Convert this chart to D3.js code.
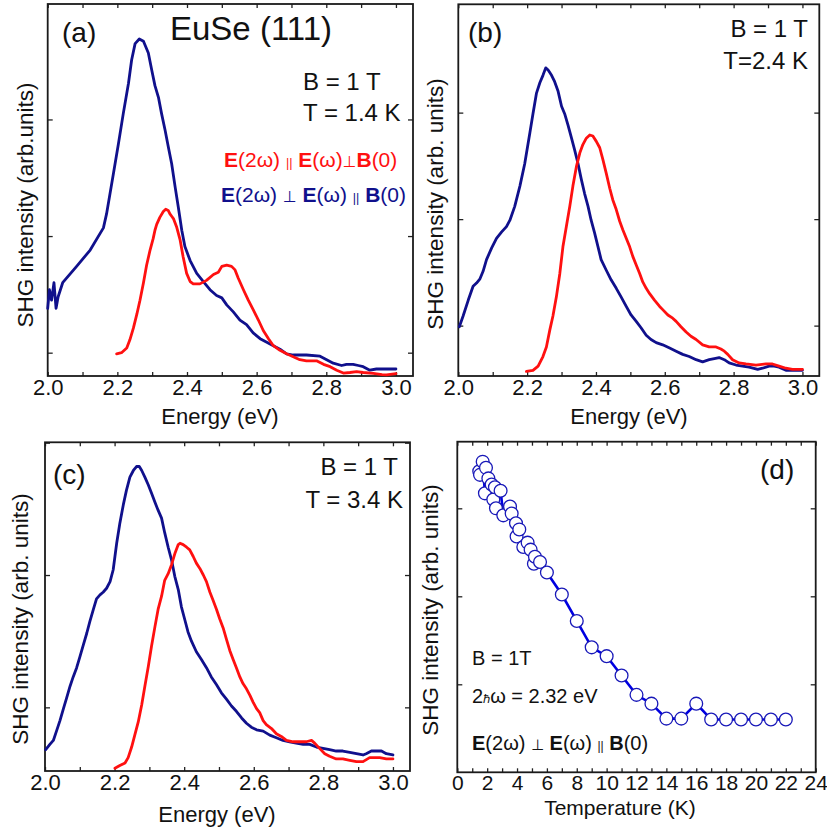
<!DOCTYPE html>
<html>
<head>
<meta charset="utf-8">
<script src="https://cdn.jsdelivr.net/npm/d3@7"></script>
<style>
  body { margin: 0; background: #fff; }
  svg { display: block; }
  text { font-family: "Liberation Sans", Arial, Helvetica, sans-serif; fill: #111; }
</style>
</head>
<body>
<svg id="fig" width="827" height="830"></svg>
<script>
// ---------- SHG spectra, photon energy (eV) vs intensity (arb. units) ----------
// (a) T = 1.4 K
const blueA = [[2.0,1.38],[2.005,1.54],[2.011,1.45],[2.018,1.60],[2.024,1.38],[2.030,1.48],[2.043,1.60],[2.083,1.74],[2.122,1.88],[2.160,2.07],[2.169,2.19],[2.189,2.54],[2.203,2.79],[2.217,3.05],[2.232,3.31],[2.241,3.51],[2.251,3.65],[2.263,3.69],[2.275,3.67],[2.289,3.57],[2.299,3.42],[2.308,3.29],[2.318,3.19],[2.327,3.05],[2.337,2.91],[2.346,2.77],[2.356,2.62],[2.366,2.42],[2.375,2.25],[2.385,2.05],[2.394,1.91],[2.409,1.79],[2.428,1.68],[2.447,1.61],[2.466,1.54],[2.485,1.49],[2.500,1.47],[2.514,1.41],[2.533,1.35],[2.552,1.28],[2.571,1.24],[2.590,1.17],[2.610,1.12],[2.629,1.09],[2.648,1.06],[2.667,1.03],[2.686,0.99],[2.705,0.98],[2.724,0.98],[2.743,0.98],[2.782,0.97],[2.801,0.94],[2.820,0.91],[2.844,0.89],[2.858,0.90],[2.877,0.90],[2.892,0.89],[2.906,0.88],[2.925,0.85],[2.944,0.86],[2.973,0.86],[3.0,0.86]];
const redA = [[2.198,0.99],[2.212,1.00],[2.227,1.04],[2.236,1.11],[2.246,1.21],[2.256,1.33],[2.265,1.45],[2.275,1.60],[2.284,1.75],[2.294,1.88],[2.303,1.98],[2.308,2.05],[2.313,2.10],[2.322,2.16],[2.332,2.21],[2.339,2.23],[2.346,2.22],[2.351,2.19],[2.356,2.17],[2.361,2.15],[2.370,2.08],[2.380,1.97],[2.389,1.82],[2.399,1.68],[2.409,1.61],[2.418,1.59],[2.437,1.59],[2.456,1.62],[2.476,1.67],[2.490,1.69],[2.500,1.74],[2.514,1.75],[2.528,1.74],[2.538,1.71],[2.547,1.64],[2.562,1.54],[2.576,1.45],[2.590,1.37],[2.605,1.28],[2.619,1.19],[2.634,1.12],[2.648,1.06],[2.667,1.02],[2.686,0.99],[2.705,0.965],[2.724,0.94],[2.743,0.93],[2.772,0.93],[2.792,0.90],[2.811,0.88],[2.830,0.85],[2.849,0.825],[2.868,0.83],[2.887,0.837],[2.906,0.83],[2.935,0.823],[2.960,0.812],[2.973,0.81],[3.0,0.82]];

// (b) T = 2.4 K
const blueB = [[2.003,0.99],[2.014,1.09],[2.029,1.24],[2.043,1.37],[2.053,1.40],[2.063,1.44],[2.072,1.51],[2.082,1.62],[2.097,1.73],[2.111,1.82],[2.126,1.88],[2.140,1.93],[2.150,1.99],[2.164,2.12],[2.179,2.31],[2.193,2.52],[2.208,2.81],[2.217,2.99],[2.227,3.18],[2.237,3.28],[2.246,3.35],[2.254,3.42],[2.261,3.40],[2.271,3.35],[2.280,3.29],[2.290,3.20],[2.300,3.06],[2.309,2.99],[2.319,2.88],[2.329,2.76],[2.338,2.65],[2.348,2.52],[2.357,2.38],[2.367,2.24],[2.377,2.12],[2.386,1.99],[2.396,1.87],[2.406,1.74],[2.415,1.62],[2.430,1.52],[2.444,1.43],[2.459,1.35],[2.473,1.27],[2.488,1.18],[2.502,1.10],[2.517,1.04],[2.531,0.98],[2.546,0.91],[2.560,0.87],[2.575,0.84],[2.594,0.82],[2.614,0.79],[2.633,0.76],[2.652,0.73],[2.671,0.71],[2.691,0.68],[2.710,0.66],[2.729,0.68],[2.744,0.69],[2.758,0.70],[2.773,0.68],[2.787,0.65],[2.807,0.63],[2.826,0.62],[2.845,0.61],[2.870,0.59],[2.884,0.60],[2.903,0.62],[2.918,0.62],[2.932,0.61],[2.952,0.58],[2.971,0.58],[3.0,0.58]];
const redB = [[2.198,0.57],[2.217,0.58],[2.232,0.62],[2.246,0.71],[2.256,0.80],[2.266,0.96],[2.275,1.09],[2.285,1.27],[2.295,1.49],[2.304,1.74],[2.314,1.93],[2.324,2.12],[2.333,2.31],[2.343,2.49],[2.353,2.62],[2.362,2.70],[2.372,2.76],[2.382,2.79],[2.391,2.78],[2.401,2.73],[2.411,2.67],[2.420,2.56],[2.430,2.43],[2.440,2.29],[2.449,2.18],[2.459,2.09],[2.469,1.98],[2.478,1.90],[2.488,1.82],[2.498,1.74],[2.507,1.65],[2.517,1.57],[2.527,1.49],[2.536,1.41],[2.546,1.35],[2.556,1.30],[2.570,1.24],[2.585,1.18],[2.594,1.15],[2.609,1.10],[2.623,1.07],[2.633,1.04],[2.647,0.99],[2.662,0.94],[2.676,0.90],[2.691,0.87],[2.710,0.82],[2.729,0.80],[2.749,0.80],[2.763,0.78],[2.773,0.76],[2.783,0.73],[2.797,0.68],[2.816,0.65],[2.836,0.64],[2.865,0.63],[2.894,0.64],[2.913,0.64],[2.932,0.62],[2.952,0.60],[2.971,0.59],[3.0,0.59]];

// (c) T = 3.4 K
const blueC = [[2.002,0.68],[2.014,0.72],[2.024,0.75],[2.033,0.82],[2.043,0.90],[2.053,0.99],[2.062,1.07],[2.072,1.16],[2.081,1.23],[2.091,1.30],[2.100,1.38],[2.110,1.47],[2.120,1.56],[2.129,1.65],[2.139,1.74],[2.148,1.82],[2.158,1.85],[2.167,1.87],[2.177,1.90],[2.187,1.95],[2.196,2.04],[2.201,2.14],[2.206,2.24],[2.215,2.39],[2.225,2.53],[2.234,2.64],[2.244,2.74],[2.254,2.79],[2.263,2.82],[2.271,2.82],[2.278,2.79],[2.287,2.74],[2.297,2.68],[2.306,2.62],[2.316,2.55],[2.325,2.49],[2.335,2.43],[2.344,2.32],[2.354,2.21],[2.364,2.11],[2.373,1.99],[2.383,1.89],[2.392,1.76],[2.402,1.66],[2.411,1.57],[2.421,1.50],[2.435,1.42],[2.450,1.36],[2.464,1.30],[2.478,1.23],[2.493,1.17],[2.507,1.11],[2.522,1.06],[2.536,1.01],[2.550,0.97],[2.565,0.92],[2.579,0.88],[2.593,0.85],[2.608,0.83],[2.627,0.82],[2.646,0.79],[2.665,0.77],[2.684,0.75],[2.703,0.74],[2.722,0.73],[2.742,0.72],[2.761,0.72],[2.780,0.70],[2.799,0.69],[2.818,0.68],[2.837,0.67],[2.856,0.67],[2.876,0.66],[2.895,0.65],[2.914,0.64],[2.923,0.65],[2.938,0.67],[2.952,0.67],[2.967,0.67],[2.981,0.65],[3.0,0.64]];
const redC = [[2.201,0.54],[2.215,0.56],[2.230,0.58],[2.239,0.62],[2.249,0.70],[2.258,0.79],[2.268,0.89],[2.278,1.02],[2.287,1.16],[2.297,1.31],[2.306,1.46],[2.316,1.61],[2.325,1.74],[2.335,1.84],[2.344,1.96],[2.354,2.01],[2.364,2.08],[2.373,2.16],[2.383,2.23],[2.388,2.24],[2.397,2.23],[2.407,2.21],[2.416,2.19],[2.426,2.14],[2.435,2.09],[2.445,2.05],[2.455,2.00],[2.464,1.95],[2.474,1.87],[2.483,1.81],[2.493,1.74],[2.502,1.67],[2.512,1.60],[2.522,1.51],[2.531,1.43],[2.541,1.36],[2.550,1.30],[2.560,1.23],[2.569,1.18],[2.579,1.14],[2.589,1.09],[2.598,1.04],[2.608,0.99],[2.617,0.96],[2.627,0.90],[2.636,0.87],[2.651,0.84],[2.665,0.80],[2.679,0.78],[2.694,0.75],[2.713,0.74],[2.732,0.74],[2.751,0.74],[2.766,0.75],[2.775,0.73],[2.789,0.69],[2.804,0.65],[2.818,0.63],[2.837,0.61],[2.856,0.61],[2.876,0.60],[2.895,0.59],[2.914,0.59],[2.933,0.62],[2.947,0.62],[2.962,0.62],[2.981,0.61],[3.0,0.61]];

// (d) SHG intensity at 2.32 eV vs temperature (K)
const temperatures = [1.47,1.52,1.70,1.85,1.92,2.08,2.30,2.41,2.52,2.59,2.90,3.08,3.53,3.64,3.93,3.97,4.15,4.42,4.71,4.91,5.13,5.20,5.54,6,7,8,9,10,11,12,13,14,15,16,17,18,19,20,21,22];
const tIntensity   = [3.42,3.38,3.53,3.17,3.46,3.34,3.27,3.10,3.24,3.00,3.20,2.92,3.02,2.94,2.83,2.68,2.76,2.56,2.61,2.53,2.37,2.45,2.39,2.27,2.02,1.72,1.42,1.32,1.10,0.88,0.78,0.61,0.61,0.78,0.60,0.60,0.60,0.60,0.60,0.60];

// axis ticks
const energyTicks = d3.range(20, 31).map(d => d / 10);
const energyLabels = [2.0, 2.2, 2.4, 2.6, 2.8, 3.0];
const tempTicks = d3.range(0, 25);
const tempLabels = d3.range(0, 25, 2);

const RED = "#ff1010";
const NAVY = "#10108c";

const svg = d3.select("#fig");
svg.append("rect").attr("width", 827).attr("height", 830).attr("fill", "#fff");

function framePanel(box, xDomain, yDomain, xTicks, xLabels, yTicks, fmt, labelY, labelSize) {
  const x = d3.scaleLinear().domain(xDomain).range([box.l, box.r]);
  const y = d3.scaleLinear().domain(yDomain).range([box.b, box.t]);
  const g = svg.append("g");
  const tickStyle = sel => {
    sel.select(".domain").remove();
    sel.selectAll(".tick line").attr("stroke", "#222").attr("stroke-width", 1.3);
  };
  g.append("g").attr("transform", `translate(0,${box.b})`)
    .call(d3.axisBottom(x).tickValues(xTicks).tickSize(-4)
      .tickFormat(d => xLabels.some(v => Math.abs(v - d) < 1e-9) ? fmt(d) : ""))
    .call(tickStyle)
    .call(s => s.selectAll("text").attr("y", labelY).attr("dy", null)
      .attr("font-size", labelSize).attr("fill", "#111")
      .attr("font-family", "\"Liberation Sans\", Arial, sans-serif"));
  g.append("g").attr("transform", `translate(0,${box.t})`)
    .call(d3.axisTop(x).tickValues(xTicks).tickSize(-4).tickFormat(""))
    .call(tickStyle);
  g.append("g").attr("transform", `translate(${box.l},0)`)
    .call(d3.axisLeft(y).tickValues(yTicks).tickSize(-5).tickFormat(""))
    .call(tickStyle);
  g.append("g").attr("transform", `translate(${box.r},0)`)
    .call(d3.axisRight(y).tickValues(yTicks).tickSize(-5).tickFormat(""))
    .call(tickStyle);
  g.append("rect").attr("x", box.l).attr("y", box.t)
    .attr("width", box.r - box.l).attr("height", box.b - box.t)
    .attr("fill", "none").attr("stroke", "#1a1a1a").attr("stroke-width", 1.8);
  return { x, y, g };
}

function addText(x, y, str, size, opts = {}) {
  const t = svg.append("text").attr("x", x).attr("y", y)
    .attr("font-size", size).attr("text-anchor", opts.anchor || "start")
    .text(str);
  if (opts.fill) t.attr("fill", opts.fill);
  if (opts.rotate) t.attr("transform", `rotate(-90,${x},${y})`);
  return t;
}

// rich text: array of [string, style]
function addRich(x, y, size, fill, parts) {
  const t = svg.append("text").attr("x", x).attr("y", y).attr("font-size", size).attr("fill", fill);
  parts.forEach(([s, st]) => {
    const ts = t.append("tspan").text(s).attr("fill", fill);
    if (st === "b") ts.attr("font-weight", "bold");
    if (st === "s") ts.attr("font-size", size * 0.6);
    if (st === "p") ts.attr("font-size", size * 0.75).attr("font-family", "\"DejaVu Sans\", sans-serif");
  });
  return t;
}

const fmt1 = d3.format(".1f");
const line = (x, y) => d3.line().x(d => x(d[0])).y(d => y(d[1]));

function spectrum(box, yDomain, yTicks, blue, red, labelY) {
  const p = framePanel(box, [2.0, 3.049], yDomain, energyTicks, energyLabels, yTicks, fmt1, labelY, 22);
  [[blue, NAVY], [red, RED]].forEach(([data, c]) => {
    p.g.append("path").datum(data).attr("d", line(p.x, p.y))
      .attr("fill", "none").attr("stroke", c).attr("stroke-width", 2.8)
      .attr("stroke-linejoin", "round").attr("stroke-linecap", "round");
  });
  return p;
}

// ---------- panel (a) ----------
spectrum({ l: 47.7, r: 413, t: 4, b: 376 }, [0.8, 3.99], [1, 2, 3], blueA, redA, 19);
addText(62, 42, "(a)", 28);
addText(170, 40, "EuSe (111)", 33);
addText(303, 90, "B = 1 T", 24);
addText(303, 121, "T = 1.4 K", 24);
addRich(224, 167, 21, RED, [["E", "b"], ["(2ω) "], ["||", "s"], [" "], ["E", "b"], ["(ω)"], ["⊥", "p"], ["B", "b"], ["(0)"]]);
addRich(221, 202, 21, NAVY, [["E", "b"], ["(2ω) "], ["⊥", "p"], [" "], ["E", "b"], ["(ω) "], ["||", "s"], [" "], ["B", "b"], ["(0)"]]);
addText(220, 424, "Energy (eV)", 22, { anchor: "middle" });
addText(33, 205, "SHG intensity (arb.units)", 22.5, { anchor: "middle", rotate: true });

// ---------- panel (b) ----------
spectrum({ l: 458.3, r: 819.3, t: 4.3, b: 376 }, [0.527, 4.017], [1, 2, 3], blueB, redB, 19);
addText(468, 42, "(b)", 28);
addText(808, 37, "B = 1 T", 24, { anchor: "end" });
addText(808, 69, "T=2.4 K", 24, { anchor: "end" });
addText(629, 424, "Energy (eV)", 22, { anchor: "middle" });
addText(443, 204, "SHG intensity (arb. units)", 22.5, { anchor: "middle", rotate: true });

// ---------- panel (c) ----------
spectrum({ l: 45, r: 410, t: 442.3, b: 771 }, [0.519, 3.003], [1, 2, 3], blueC, redC, 19);
addText(53, 484, "(c)", 28);
addText(398, 475, "B = 1 T", 24, { anchor: "end" });
addText(403, 508, "T = 3.4 K", 24, { anchor: "end" });
addText(217, 822, "Energy (eV)", 22, { anchor: "middle" });
addText(28, 619, "SHG intensity (arb. units)", 22.5, { anchor: "middle", rotate: true });

// ---------- panel (d) ----------
const pd = framePanel({ l: 457.3, r: 815.7, t: 441.7, b: 772.3 }, [0, 24], [0, 3.757],
  tempTicks, tempLabels, [1, 2, 3], d3.format("d"), 18, 21);
const tPoints = temperatures.map((t, i) => [t, tIntensity[i]]);
pd.g.append("path").datum(tPoints).attr("d", line(pd.x, pd.y))
  .attr("fill", "none").attr("stroke", "#0000e0").attr("stroke-width", 2.6);
pd.g.selectAll("circle").data(tPoints).join("circle")
  .attr("cx", d => pd.x(d[0])).attr("cy", d => pd.y(d[1])).attr("r", 6.4)
  .attr("fill", "#fff").attr("stroke", "#1818b8").attr("stroke-width", 1.3);
addText(760, 479, "(d)", 28);
addText(472, 665, "B = 1T", 20);
addRich(472, 703, 20, "#111", [["2"], ["ℏ", "s"], ["ω = 2.32 eV"]]);
addRich(472, 750, 20, "#111", [["E", "b"], ["(2ω) "], ["⊥", "p"], ["  "], ["E", "b"], ["(ω) "], ["||", "s"], ["  "], ["B", "b"], ["(0)"]]);
addText(620, 815, "Temperature (K)", 21, { anchor: "middle" });
addText(438, 610, "SHG intensity (arb. units)", 22.5, { anchor: "middle", rotate: true });
</script>
</body>
</html>
